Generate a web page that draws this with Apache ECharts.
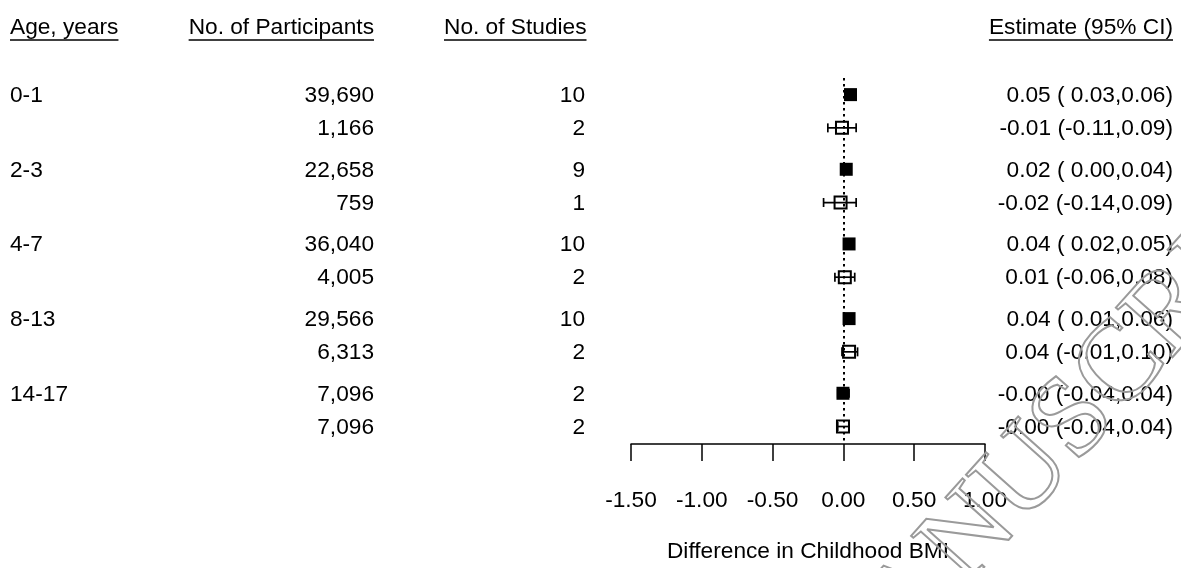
<!DOCTYPE html>
<html>
<head>
<meta charset="utf-8">
<script src="https://cdn.jsdelivr.net/npm/echarts@6/dist/echarts.min.js"></script>
<style>
html,body{margin:0;padding:0;background:#fff;}
#chart{width:1181px;height:568px;}
</style>
</head>
<body>
<div id="chart"></div>
<script>
// ---- data ----
const ages = ['0-1', '', '2-3', '', '4-7', '', '8-13', '', '14-17', ''];
const participants = ['39,690', '1,166', '22,658', '759', '36,040', '4,005', '29,566', '6,313', '7,096', '7,096'];
const studies = ['10', '2', '9', '1', '10', '2', '10', '2', '2', '2'];
const estimateText = ['0.05 ( 0.03,0.06)', '-0.01 (-0.11,0.09)', '0.02 ( 0.00,0.04)', '-0.02 (-0.14,0.09)',
  '0.04 ( 0.02,0.05)', '0.01 (-0.06,0.08)', '0.04 ( 0.01,0.06)', '0.04 (-0.01,0.10)',
  '-0.00 (-0.04,0.04)', '-0.00 (-0.04,0.04)'];
const est = [0.05, -0.01, 0.02, -0.02, 0.04, 0.01, 0.04, 0.04, -0.003, -0.003];
const lo = [0.03, -0.11, 0.00, -0.14, 0.02, -0.06, 0.01, -0.01, -0.04, -0.04];
const hi = [0.06, 0.09, 0.04, 0.09, 0.05, 0.08, 0.06, 0.10, 0.04, 0.04];
const filled = [true, false, true, false, true, false, true, false, true, false];
const headers = ['Age, years', 'No. of Participants', 'No. of Studies', 'Estimate (95% CI)'];
const xTicks = [-1.5, -1.0, -0.5, 0.0, 0.5, 1.0];
const xTitle = 'Difference in Childhood BMI';
const watermark = 'MANUSCRIPT';

// ---- layout helpers ----
const FONT = '"Liberation Sans", Arial, Helvetica, sans-serif';
const FS = 22.7;
const rowPos = ages.map((_, i) => Math.floor(i / 2) * 2.246 + (i % 2));

const ctx = document.createElement('canvas').getContext('2d');
ctx.font = FS + 'px ' + FONT;
function tw(s) { return ctx.measureText(s).width; }

const chart = echarts.init(document.getElementById('chart'), null, { renderer: 'canvas' });

const forestData = est.map((e, i) => [e, rowPos[i], lo[i], hi[i], filled[i] ? 1 : 0]);
const textData = rowPos.map((p, i) => [0, p, i]);

const headerLayout = [
  [headers[0], 10, 'left'],
  [headers[1], 374, 'right'],
  [headers[2], 444, 'left'],
  [headers[3], 1173, 'right']
];
const HEADER_Y = 28;
const graphics = [];
headerLayout.forEach(([t, x, al]) => {
  const w = tw(t);
  const x0 = al === 'left' ? x : x - w;
  graphics.push({
    type: 'text', x: x, y: HEADER_Y,
    style: { text: t, font: FS + 'px ' + FONT, fill: '#000', align: al, verticalAlign: 'middle' }
  });
  graphics.push({
    type: 'line', shape: { x1: x0, y1: 40, x2: x0 + w, y2: 40 },
    style: { stroke: '#000', lineWidth: 1.3 }
  });
});
// watermark (outlined letters, drawn on top)
graphics.push({
  type: 'text', x: 776, y: 668, rotation: 0.84, z: 200, silent: true,
  style: {
    text: watermark, font: '115px "Liberation Serif", "DejaVu Serif", serif',
    fill: 'rgba(255,255,255,0)', stroke: '#9a9a9a', lineWidth: 2,
    align: 'left', verticalAlign: 'alphabetic'
  }
});

const option = {
  animation: false,
  backgroundColor: '#fff',
  grid: { left: 631, right: 196, top: 78, bottom: 119, containLabel: false },
  xAxis: {
    type: 'value', min: -1.5, max: 1.0, interval: 0.5, position: 'bottom',
    axisLine: { show: true, onZero: false, lineStyle: { color: '#000', width: 1.5 } },
    axisTick: { show: true, length: 17, lineStyle: { color: '#000', width: 1.5 } },
    axisLabel: {
      color: '#000', fontSize: FS, fontFamily: FONT, margin: 45,
      formatter: v => v.toFixed(2),
      showMinLabel: true, showMaxLabel: true
    },
    splitLine: { show: false },
    name: xTitle, nameLocation: 'middle', nameGap: 96,
    nameTextStyle: { color: '#000', fontSize: FS, fontFamily: FONT }
  },
  yAxis: { type: 'value', inverse: true, min: -0.5, max: 10.51, show: false, splitLine: { show: false } },
  graphic: graphics,
  series: [
    {
      type: 'custom', name: 'forest', clip: false, z: 5,
      data: forestData,
      renderItem: (params, api) => {
        const e = api.value(0), p = api.value(1), l = api.value(2), h = api.value(3), f = api.value(4);
        const c = api.coord([e, p]);
        const cl = api.coord([l, p]);
        const ch = api.coord([h, p]);
        const s = 13;
        const ln = { stroke: '#000', lineWidth: 1.7 };
        const children = [
          { type: 'line', shape: { x1: cl[0], y1: c[1], x2: ch[0], y2: c[1] }, style: ln },
          { type: 'line', shape: { x1: cl[0], y1: c[1] - 4.5, x2: cl[0], y2: c[1] + 4.5 }, style: ln },
          { type: 'line', shape: { x1: ch[0], y1: c[1] - 4.5, x2: ch[0], y2: c[1] + 4.5 }, style: ln }
        ];
        if (f) {
          children.push({ type: 'rect', shape: { x: c[0] - s / 2, y: c[1] - s / 2, width: s, height: s }, style: { fill: '#000' } });
        } else {
          children.push({ type: 'rect', shape: { x: c[0] - (s - 1) / 2, y: c[1] - (s - 1) / 2, width: s - 1, height: s - 1 }, style: { fill: 'none', stroke: '#000', lineWidth: 2 } });
        }
        return { type: 'group', children };
      },
      markLine: {
        silent: true, symbol: 'none', label: { show: false },
        lineStyle: { color: '#000', type: [2.5, 3.5], width: 2 },
        data: [{ xAxis: 0 }]
      }
    },
    {
      type: 'custom', name: 'table', clip: false, silent: true,
      data: textData,
      renderItem: (params, api) => {
        const i = api.value(2);
        const y = api.coord([0, api.value(1)])[1] + 1;
        const st = (t, x, al) => ({
          type: 'text', x: x, y: y,
          style: { text: t, font: FS + 'px ' + FONT, fill: '#000', align: al, verticalAlign: 'middle' }
        });
        return {
          type: 'group', children: [
            st(ages[i], 10, 'left'),
            st(participants[i], 374, 'right'),
            st(studies[i], 585, 'right'),
            st(estimateText[i], 1173, 'right')
          ]
        };
      }
    }
  ]
};
chart.setOption(option);
</script>
</body>
</html>
